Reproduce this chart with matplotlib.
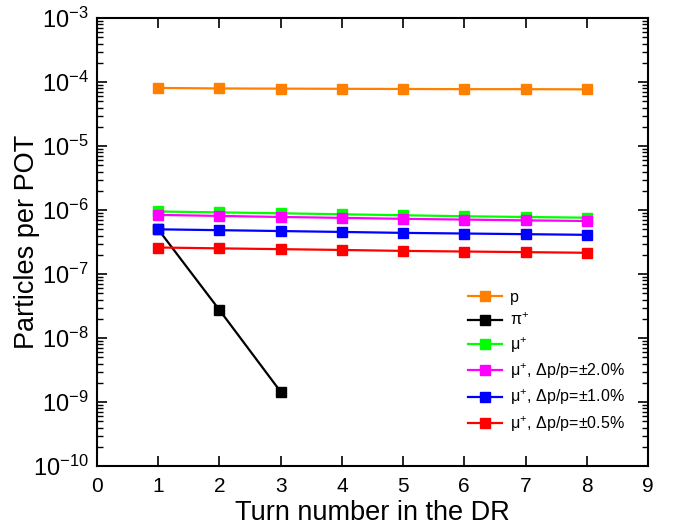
import matplotlib
matplotlib.use("Agg")
import matplotlib.pyplot as plt
from matplotlib.ticker import LogLocator, NullFormatter, MultipleLocator
import numpy as np

plt.rcParams["font.family"] = ["Liberation Sans", "DejaVu Sans"]
plt.rcParams["mathtext.fontset"] = "custom"
plt.rcParams["mathtext.rm"] = "Liberation Sans"
plt.rcParams["mathtext.it"] = "Liberation Sans"

#--- data
turns      = [1, 2, 3, 4, 5, 6, 7, 8]
turns_pi   = [1, 2, 3]
proton     = [8.1e-5, 7.95e-5, 7.9e-5, 7.85e-5, 7.8e-5, 7.75e-5, 7.75e-5, 7.7e-5]
pion       = [5.0e-7, 2.75e-8, 1.45e-9]
muon       = [9.5e-7, 9.2e-7, 8.9e-7, 8.6e-7, 8.3e-7, 8.0e-7, 7.8e-7, 7.6e-7]
muon_2p0   = [8.4e-7, 8.1e-7, 7.8e-7, 7.55e-7, 7.3e-7, 7.1e-7, 6.9e-7, 6.75e-7]
muon_1p0   = [5.0e-7, 4.85e-7, 4.7e-7, 4.55e-7, 4.4e-7, 4.3e-7, 4.2e-7, 4.1e-7]
muon_0p5   = [2.6e-7, 2.52e-7, 2.45e-7, 2.38e-7, 2.3e-7, 2.25e-7, 2.2e-7, 2.15e-7]
labels     = ["p", r"$\pi^{+}$", r"$\mu^{+}$",
              r"$\mu^{+}$, $\Delta$p/p=$\pm$2.0%",
              r"$\mu^{+}$, $\Delta$p/p=$\pm$1.0%",
              r"$\mu^{+}$, $\Delta$p/p=$\pm$0.5%"]
colors     = ["#ff8000", "black", "#00ff00", "#ff00ff", "#0000ff", "#ff0000"]
#---

fig = plt.figure(figsize=(6.78, 5.32), dpi=100)
ax = fig.add_axes([0.143, 0.124, 0.8127, 0.842])

series = [(turns, proton), (turns_pi, pion), (turns, muon),
          (turns, muon_2p0), (turns, muon_1p0), (turns, muon_0p5)]
for (x, y), lab, c in zip(series, labels, colors):
    ax.plot(x, y, color=c, marker="s", markersize=7, linewidth=1.6, label=lab)

ax.set_yscale("log")
ax.set_xlim(0, 9)
ax.set_ylim(1e-10, 1e-3)
ax.xaxis.set_major_locator(MultipleLocator(1))
ax.yaxis.set_major_locator(LogLocator(base=10, numticks=20))
ax.yaxis.set_minor_locator(LogLocator(base=10, subs=np.arange(2, 10), numticks=20))
ax.yaxis.set_minor_formatter(NullFormatter())
ax.tick_params(which="both", direction="in", top=True, right=True)
ax.tick_params(which="major", length=7, width=1.2)
ax.tick_params(which="minor", length=4, width=1)
ax.tick_params(axis="x", labelsize=15, pad=8)
ax.tick_params(axis="y", labelsize=17, pad=6)
for s in ax.spines.values():
    s.set_linewidth(1.5)

ax.set_xlabel("Turn number in the DR", fontsize=19.5, va="baseline")
ax.xaxis.set_label_coords(0.5, (466 - 520) / 448)
ax.set_ylabel("Particles per POT", fontsize=19.5, va="center")
ax.yaxis.set_label_coords((27 - 97) / 551, 0.5)

ax.legend(loc="upper left", bbox_to_anchor=(468 / 678, 1 - 290 / 532),
          bbox_transform=fig.transFigure, frameon=False, fontsize=11.5,
          handlelength=2.1, labelspacing=0.42, handletextpad=0.5,
          borderpad=0, borderaxespad=0, markerscale=0.95)

fig.savefig("out.png", dpi=100)
